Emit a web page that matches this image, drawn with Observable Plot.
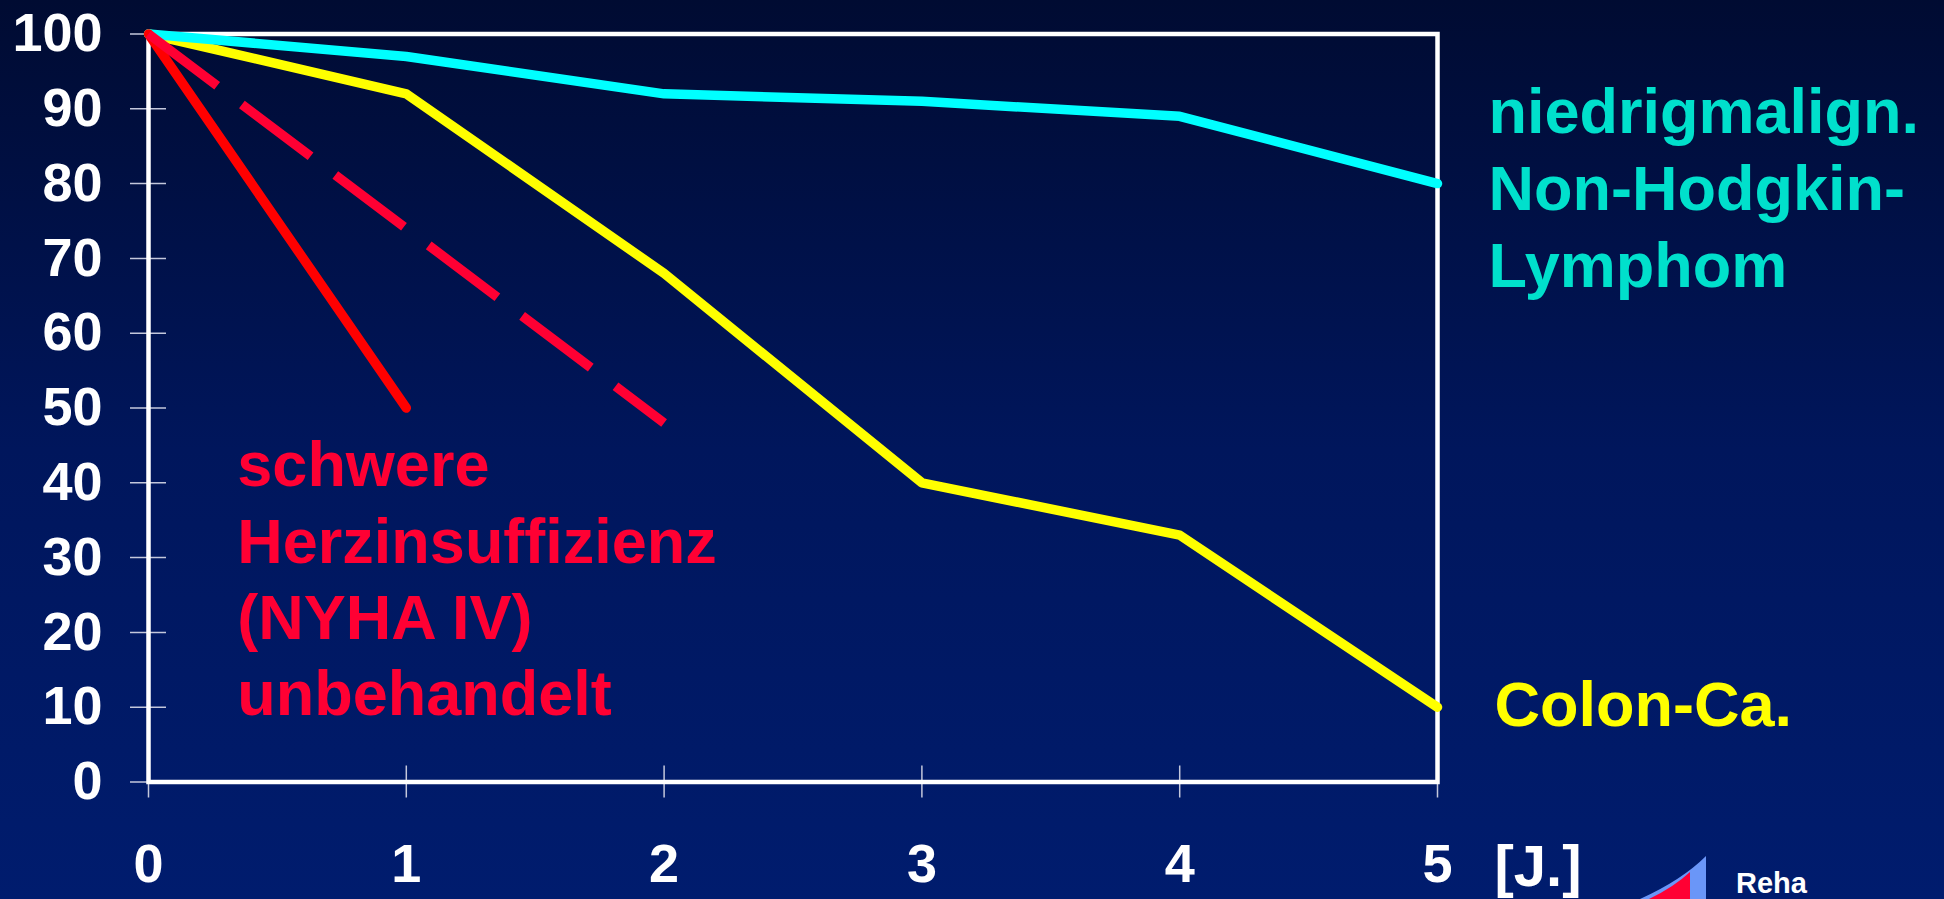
<!DOCTYPE html>
<html>
<head>
<meta charset="utf-8">
<script src="https://cdn.jsdelivr.net/npm/d3@7"></script>
<script src="https://cdn.jsdelivr.net/npm/@observablehq/plot@0.6"></script>
<style>
  html, body { margin: 0; padding: 0; width: 1944px; height: 899px; overflow: hidden;
    background: linear-gradient(to bottom, #000b32 0%, #00165c 50%, #001c6e 100%); }
  #chart { position: absolute; left: 0; top: 0; }
  #logo { position: absolute; left: 0; top: 0; pointer-events: none; }
</style>
</head>
<body>
<div id="chart"></div>
<svg id="logo" width="1944" height="899" viewBox="0 0 1944 899">
  <path d="M1640,899 Q1682,880 1706,856 L1706,899 Z" fill="#6a96f8"/>
  <path d="M1649,899 Q1674,887 1690,872 L1690,899 Z" fill="#ff0033"/>
  <text x="1736" y="893" fill="white" font-family="'Liberation Sans', Arial, sans-serif" font-weight="bold" font-size="29">Reha</text>
</svg>
<script>
// ---- data ----
const years = [0, 1, 2, 3, 4, 5];
const nhlValues = [100, 97, 92, 91, 89, 80];          // niedrigmalign. Non-Hodgkin-Lymphom
const colonValues = [100, 92, 68, 40, 33, 10];        // Colon-Ca.
const herzYears = [0, 1];
const herzValues = [100, 50];                          // Herzinsuffizienz (solid)
const herzDashYears = [0, 2];
const herzDashValues = [100, 48];                      // Herzinsuffizienz (dashed)
const yTicks = [0, 10, 20, 30, 40, 50, 60, 70, 80, 90, 100];
const xTicks = [0, 1, 2, 3, 4, 5];
const labelNHL = "niedrigmalign.\nNon-Hodgkin-\nLymphom";
const labelColon = "Colon-Ca.";
const labelHerz = "schwere\nHerzinsuffizienz\n(NYHA IV)\nunbehandelt";
const xUnitLabel = "[J.]";

// ---- build ----
const pts = (xs, ys) => xs.map((x, i) => ({x, y: ys[i]}));
const last = (xs, ys) => [{x: xs[xs.length - 1], y: ys[ys.length - 1]}];
const font = "'Liberation Sans', Arial, Helvetica, sans-serif";

const chart = Plot.plot({
  width: 1944,
  height: 899,
  marginLeft: 148,
  marginRight: 507,
  marginTop: 33.5,
  marginBottom: 117.5,
  style: {background: "transparent", color: "white", fontFamily: font, fontWeight: "bold", fontSize: "54px", overflow: "visible"},
  x: {domain: [0, 5]},
  y: {domain: [0, 100]},
  marks: [
    Plot.axisY(yTicks, {tickSize: 36, dx: 18, tickPadding: 28, stroke: "#c4c8dc", strokeWidth: 1.5, fill: "white", label: null, fontSize: 54, tickFormat: d => String(d)}),
    Plot.axisX(xTicks, {tickSize: 32, dy: -16, tickPadding: 46, stroke: "#c4c8dc", strokeWidth: 1.5, fill: "white", label: null, fontSize: 54, tickFormat: d => String(d)}),
    Plot.frame({stroke: "white", strokeWidth: 4.5}),
    Plot.line(pts(years, colonValues), {x: "x", y: "y", stroke: "#ffff00", strokeWidth: 9.5, strokeLinecap: "round", strokeLinejoin: "round"}),
    Plot.line(pts(years, nhlValues), {x: "x", y: "y", stroke: "#00ffff", strokeWidth: 9.5, strokeLinecap: "round", strokeLinejoin: "round"}),
    Plot.line(pts(herzYears, herzValues), {x: "x", y: "y", stroke: "#ff0000", strokeWidth: 9.5, strokeLinecap: "round"}),
    Plot.line(pts(herzDashYears, herzDashValues), {x: "x", y: "y", stroke: "#ff0033", strokeWidth: 9.5, strokeLinecap: "butt", strokeDasharray: "86,31"}),
    Plot.text(last(years, nhlValues), {x: "x", y: "y", text: () => labelNHL, dx: 51, dy: 2, textAnchor: "start", lineAnchor: "middle", lineHeight: 1.222, fontSize: 63, fontWeight: "bold", fill: "#00e0cc"}),
    Plot.text(last(years, colonValues), {x: "x", y: "y", text: () => labelColon, dx: 57, dy: -1, textAnchor: "start", lineAnchor: "middle", fontSize: 63, fontWeight: "bold", fill: "#ffff00"}),
    Plot.text(last(herzYears, herzValues), {x: "x", y: "y", text: () => labelHerz, dx: -169, dy: 24, textAnchor: "start", lineAnchor: "top", lineHeight: 1.212, fontSize: 63, fontWeight: "bold", fill: "#ff0033"}),
    Plot.text([{x: xTicks[xTicks.length - 1], y: yTicks[0]}], {x: "x", y: "y", text: () => xUnitLabel, dx: 57, dy: 85, textAnchor: "start", lineAnchor: "middle", fontSize: 58, fontWeight: "bold", fill: "white"})
  ]
});
document.getElementById("chart").appendChild(chart);
</script>
</body>
</html>
